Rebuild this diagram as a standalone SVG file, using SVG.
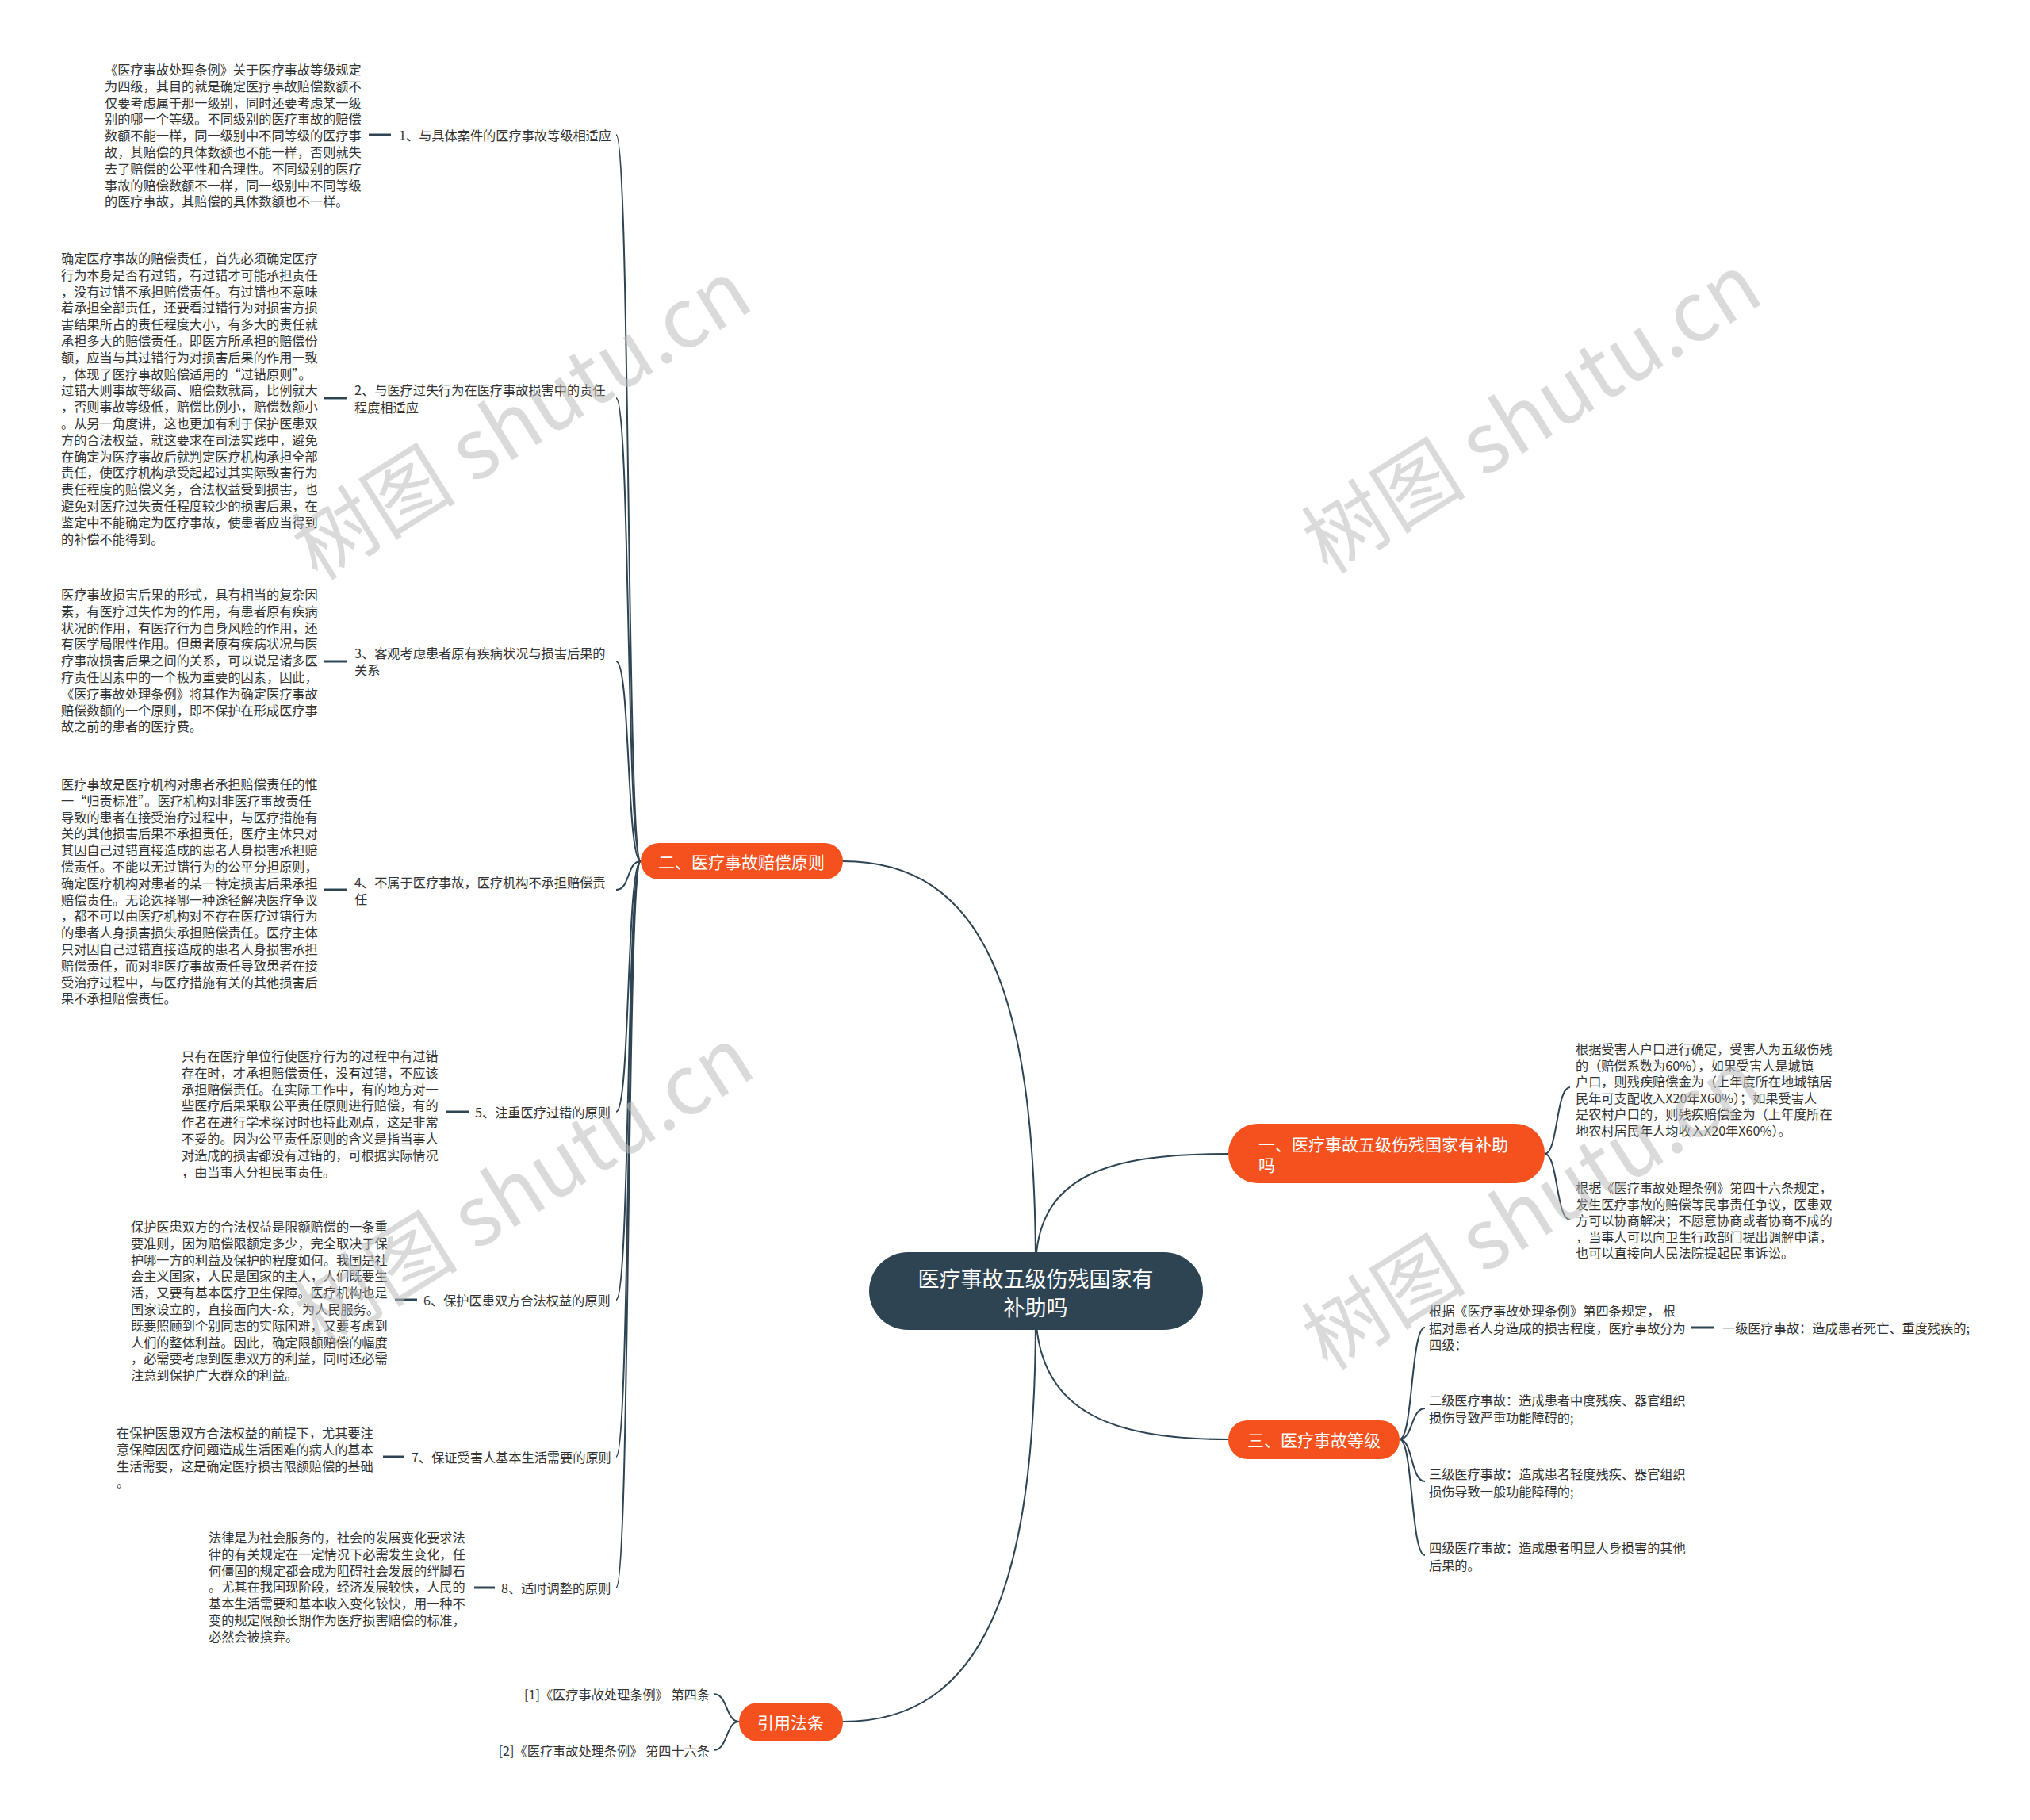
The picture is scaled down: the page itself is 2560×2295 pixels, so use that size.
<svg xmlns="http://www.w3.org/2000/svg" width="2560" height="2295" viewBox="0 0 2560 2295">
<style>
.t{font-family:"Noto Sans CJK SC","Liberation Sans",sans-serif;font-size:16.2px;fill:#333;dominant-baseline:central}
.l{font-family:"Noto Sans CJK SC","Liberation Sans",sans-serif;font-size:16.2px;fill:#333;dominant-baseline:central}
.nw{font-family:"Noto Sans CJK SC","Liberation Sans",sans-serif;font-size:21px;fill:#fff;dominant-baseline:central}
.cw{font-family:"Noto Sans CJK SC","Liberation Sans",sans-serif;font-size:27px;fill:#fff;dominant-baseline:central}
.c{fill:none;stroke:#2e4453;stroke-width:2}
.d{stroke:#2e4453;stroke-width:3}
.o{fill:#f4511e}
.wm{font-family:"Noto Sans CJK SC","Liberation Sans",sans-serif;font-size:104px;fill:#bbbbbb;fill-opacity:0.55}
</style>
<rect width="2560" height="2295" fill="#fff"/>
<g id="connectors">
<path class="c" d="M1306 1600 C1306 1250 1240 1086 1063 1086"/>
<path class="c" d="M1306 1600 C1306 1480 1400 1455 1549 1455"/>
<path class="c" d="M1306 1650 C1306 1780 1400 1815 1549 1815"/>
<path class="c" d="M1306 1660 C1306 2000 1240 2171 1063 2171"/>
<path class="c" d="M808 1086 C790 1086 795 170 777 170"/>
<path class="c" d="M808 1086 C790 1086 795 502 777 502"/>
<path class="c" d="M808 1086 C790 1086 795 834 777 834"/>
<path class="c" d="M808 1086 C790 1086 795 1122 777 1122"/>
<path class="c" d="M808 1086 C790 1086 795 1402 777 1402"/>
<path class="c" d="M808 1086 C790 1086 795 1639 777 1639"/>
<path class="c" d="M808 1086 C790 1086 795 1837 777 1837"/>
<path class="c" d="M808 1086 C790 1086 795 2002 777 2002"/>
<path class="c" d="M1948 1455 C1965 1455 1962 1371 1980 1371"/>
<path class="c" d="M1948 1455 C1965 1455 1962 1538 1980 1538"/>
<path class="c" d="M1765 1815 C1782 1815 1779 1674 1797 1674"/>
<path class="c" d="M1765 1815 C1782 1815 1779 1776 1797 1776"/>
<path class="c" d="M1765 1815 C1782 1815 1779 1868 1797 1868"/>
<path class="c" d="M1765 1815 C1782 1815 1779 1961 1797 1961"/>
<path class="c" d="M932 2171 C915 2171 918 2136 900 2136"/>
<path class="c" d="M932 2171 C915 2171 918 2207 900 2207"/>
<line class="d" x1="465" y1="170" x2="493" y2="170"/>
<line class="d" x1="408" y1="502" x2="438" y2="502"/>
<line class="d" x1="408" y1="834" x2="438" y2="834"/>
<line class="d" x1="408" y1="1122" x2="438" y2="1122"/>
<line class="d" x1="563" y1="1402" x2="591" y2="1402"/>
<line class="d" x1="498" y1="1639" x2="526" y2="1639"/>
<line class="d" x1="483" y1="1837" x2="509" y2="1837"/>
<line class="d" x1="598" y1="2002" x2="624" y2="2002"/>
<line class="d" x1="2132" y1="1674" x2="2162" y2="1674"/>
</g>
<g id="center">
<rect x="1096" y="1579" width="421" height="98" rx="49" fill="#2e4453"/>
<text class="cw" x="1306" y="1611" text-anchor="middle">医疗事故五级伤残国家有</text>
<text class="cw" x="1306" y="1647" text-anchor="middle">补助吗</text>
</g>
<g id="b2">
<rect class="o" x="808" y="1063" width="255" height="46" rx="23"/>
<text class="nw" x="935" y="1086" text-anchor="middle">二、医疗事故赔偿原则</text>
</g>
<g id="b1">
<rect class="o" x="1549" y="1417" width="399" height="75" rx="37"/>
<text class="nw" x="1587" y="1442">一、医疗事故五级伤残国家有补助</text>
<text class="nw" x="1587" y="1468">吗</text>
</g>
<g id="b3">
<rect class="o" x="1549" y="1791" width="216" height="49" rx="24"/>
<text class="nw" x="1657" y="1815" text-anchor="middle">三、医疗事故等级</text>
</g>
<g id="b4">
<rect class="o" x="932" y="2147" width="131" height="49" rx="24"/>
<text class="nw" x="997" y="2171" text-anchor="middle">引用法条</text>
</g>
<g id="p1">
<text class="l" x="503" y="170">1、与具体案件的医疗事故等级相适应</text>
<text class="t" x="132" y="87"><tspan x="132">《医疗事故处理条例》关于医疗事故等级规定</tspan><tspan x="132" dy="20.8">为四级，其目的就是确定医疗事故赔偿数额不</tspan><tspan x="132" dy="20.8">仅要考虑属于那一级别，同时还要考虑某一级</tspan><tspan x="132" dy="20.8">别的哪一个等级。不同级别的医疗事故的赔偿</tspan><tspan x="132" dy="20.8">数额不能一样，同一级别中不同等级的医疗事</tspan><tspan x="132" dy="20.8">故，其赔偿的具体数额也不能一样，否则就失</tspan><tspan x="132" dy="20.8">去了赔偿的公平性和合理性。不同级别的医疗</tspan><tspan x="132" dy="20.8">事故的赔偿数额不一样，同一级别中不同等级</tspan><tspan x="132" dy="20.8">的医疗事故，其赔偿的具体数额也不一样。</tspan></text>
</g>
<g id="p2">
<text class="l" x="447" y="491">2、与医疗过失行为在医疗事故损害中的责任</text>
<text class="l" x="447" y="513">程度相适应</text>
<text class="t" x="77" y="325"><tspan x="77">确定医疗事故的赔偿责任，首先必须确定医疗</tspan><tspan x="77" dy="20.8">行为本身是否有过错，有过错才可能承担责任</tspan><tspan x="77" dy="20.8">，没有过错不承担赔偿责任。有过错也不意味</tspan><tspan x="77" dy="20.8">着承担全部责任，还要看过错行为对损害方损</tspan><tspan x="77" dy="20.8">害结果所占的责任程度大小，有多大的责任就</tspan><tspan x="77" dy="20.8">承担多大的赔偿责任。即医方所承担的赔偿份</tspan><tspan x="77" dy="20.8">额，应当与其过错行为对损害后果的作用一致</tspan><tspan x="77" dy="20.8">，体现了医疗事故赔偿适用的“过错原则”。</tspan><tspan x="77" dy="20.8">过错大则事故等级高、赔偿数就高，比例就大</tspan><tspan x="77" dy="20.8">，否则事故等级低，赔偿比例小，赔偿数额小</tspan><tspan x="77" dy="20.8">。从另一角度讲，这也更加有利于保护医患双</tspan><tspan x="77" dy="20.8">方的合法权益，就这要求在司法实践中，避免</tspan><tspan x="77" dy="20.8">在确定为医疗事故后就判定医疗机构承担全部</tspan><tspan x="77" dy="20.8">责任，使医疗机构承受起超过其实际致害行为</tspan><tspan x="77" dy="20.8">责任程度的赔偿义务，合法权益受到损害，也</tspan><tspan x="77" dy="20.8">避免对医疗过失责任程度较少的损害后果，在</tspan><tspan x="77" dy="20.8">鉴定中不能确定为医疗事故，使患者应当得到</tspan><tspan x="77" dy="20.8">的补偿不能得到。</tspan></text>
</g>
<g id="p3">
<text class="l" x="447" y="823">3、客观考虑患者原有疾病状况与损害后果的</text>
<text class="l" x="447" y="844">关系</text>
<text class="t" x="77" y="749"><tspan x="77">医疗事故损害后果的形式，具有相当的复杂因</tspan><tspan x="77" dy="20.8">素，有医疗过失作为的作用，有患者原有疾病</tspan><tspan x="77" dy="20.8">状况的作用，有医疗行为自身风险的作用，还</tspan><tspan x="77" dy="20.8">有医学局限性作用。但患者原有疾病状况与医</tspan><tspan x="77" dy="20.8">疗事故损害后果之间的关系，可以说是诸多医</tspan><tspan x="77" dy="20.8">疗责任因素中的一个极为重要的因素，因此，</tspan><tspan x="77" dy="20.8">《医疗事故处理条例》将其作为确定医疗事故</tspan><tspan x="77" dy="20.8">赔偿数额的一个原则，即不保护在形成医疗事</tspan><tspan x="77" dy="20.8">故之前的患者的医疗费。</tspan></text>
</g>
<g id="p4">
<text class="l" x="447" y="1112">4、不属于医疗事故，医疗机构不承担赔偿责</text>
<text class="l" x="447" y="1133">任</text>
<text class="t" x="77" y="988"><tspan x="77">医疗事故是医疗机构对患者承担赔偿责任的惟</tspan><tspan x="77" dy="20.8">一“归责标准”。医疗机构对非医疗事故责任</tspan><tspan x="77" dy="20.8">导致的患者在接受治疗过程中，与医疗措施有</tspan><tspan x="77" dy="20.8">关的其他损害后果不承担责任，医疗主体只对</tspan><tspan x="77" dy="20.8">其因自己过错直接造成的患者人身损害承担赔</tspan><tspan x="77" dy="20.8">偿责任。不能以无过错行为的公平分担原则，</tspan><tspan x="77" dy="20.8">确定医疗机构对患者的某一特定损害后果承担</tspan><tspan x="77" dy="20.8">赔偿责任。无论选择哪一种途径解决医疗争议</tspan><tspan x="77" dy="20.8">，都不可以由医疗机构对不存在医疗过错行为</tspan><tspan x="77" dy="20.8">的患者人身损害损失承担赔偿责任。医疗主体</tspan><tspan x="77" dy="20.8">只对因自己过错直接造成的患者人身损害承担</tspan><tspan x="77" dy="20.8">赔偿责任，而对非医疗事故责任导致患者在接</tspan><tspan x="77" dy="20.8">受治疗过程中，与医疗措施有关的其他损害后</tspan><tspan x="77" dy="20.8">果不承担赔偿责任。</tspan></text>
</g>
<g id="p5">
<text class="l" x="599" y="1402">5、注重医疗过错的原则</text>
<text class="t" x="229" y="1331"><tspan x="229">只有在医疗单位行使医疗行为的过程中有过错</tspan><tspan x="229" dy="20.8">存在时，才承担赔偿责任，没有过错，不应该</tspan><tspan x="229" dy="20.8">承担赔偿责任。在实际工作中，有的地方对一</tspan><tspan x="229" dy="20.8">些医疗后果采取公平责任原则进行赔偿，有的</tspan><tspan x="229" dy="20.8">作者在进行学术探讨时也持此观点，这是非常</tspan><tspan x="229" dy="20.8">不妥的。因为公平责任原则的含义是指当事人</tspan><tspan x="229" dy="20.8">对造成的损害都没有过错的，可根据实际情况</tspan><tspan x="229" dy="20.8">，由当事人分担民事责任。</tspan></text>
</g>
<g id="p6">
<text class="l" x="534" y="1639">6、保护医患双方合法权益的原则</text>
<text class="t" x="165" y="1546"><tspan x="165">保护医患双方的合法权益是限额赔偿的一条重</tspan><tspan x="165" dy="20.8">要准则，因为赔偿限额定多少，完全取决于保</tspan><tspan x="165" dy="20.8">护哪一方的利益及保护的程度如何。我国是社</tspan><tspan x="165" dy="20.8">会主义国家，人民是国家的主人，人们既要生</tspan><tspan x="165" dy="20.8">活，又要有基本医疗卫生保障。医疗机构也是</tspan><tspan x="165" dy="20.8">国家设立的，直接面向大-众，为人民服务。</tspan><tspan x="165" dy="20.8">既要照顾到个别同志的实际困难，又要考虑到</tspan><tspan x="165" dy="20.8">人们的整体利益。因此，确定限额赔偿的幅度</tspan><tspan x="165" dy="20.8">，必需要考虑到医患双方的利益，同时还必需</tspan><tspan x="165" dy="20.8">注意到保护广大群众的利益。</tspan></text>
</g>
<g id="p7">
<text class="l" x="519" y="1837">7、保证受害人基本生活需要的原则</text>
<text class="t" x="147" y="1806"><tspan x="147">在保护医患双方合法权益的前提下，尤其要注</tspan><tspan x="147" dy="20.8">意保障因医疗问题造成生活困难的病人的基本</tspan><tspan x="147" dy="20.8">生活需要，这是确定医疗损害限额赔偿的基础</tspan><tspan x="147" dy="20.8">。</tspan></text>
</g>
<g id="p8">
<text class="l" x="632" y="2002">8、适时调整的原则</text>
<text class="t" x="263" y="1938"><tspan x="263">法律是为社会服务的，社会的发展变化要求法</tspan><tspan x="263" dy="20.8">律的有关规定在一定情况下必需发生变化，任</tspan><tspan x="263" dy="20.8">何僵固的规定都会成为阻碍社会发展的绊脚石</tspan><tspan x="263" dy="20.8">。尤其在我国现阶段，经济发展较快，人民的</tspan><tspan x="263" dy="20.8">基本生活需要和基本收入变化较快，用一种不</tspan><tspan x="263" dy="20.8">变的规定限额长期作为医疗损害赔偿的标准，</tspan><tspan x="263" dy="20.8">必然会被摈弃。</tspan></text>
</g>
<g id="r1">
<text class="t" x="1987" y="1322"><tspan x="1987">根据受害人户口进行确定，受害人为五级伤残</tspan><tspan x="1987" dy="20.6">的（赔偿系数为60%），如果受害人是城镇</tspan><tspan x="1987" dy="20.6">户口，则残疾赔偿金为（上年度所在地城镇居</tspan><tspan x="1987" dy="20.6">民年可支配收入X20年X60%）；如果受害人</tspan><tspan x="1987" dy="20.6">是农村户口的，则残疾赔偿金为（上年度所在</tspan><tspan x="1987" dy="20.6">地农村居民年人均收入X20年X60%）。</tspan></text>
</g>
<g id="r2">
<text class="t" x="1987" y="1497"><tspan x="1987">根据《医疗事故处理条例》第四十六条规定，</tspan><tspan x="1987" dy="20.6">发生医疗事故的赔偿等民事责任争议，医患双</tspan><tspan x="1987" dy="20.6">方可以协商解决；不愿意协商或者协商不成的</tspan><tspan x="1987" dy="20.6">，当事人可以向卫生行政部门提出调解申请，</tspan><tspan x="1987" dy="20.6">也可以直接向人民法院提起民事诉讼。</tspan></text>
</g>
<g id="g1">
<text class="t" x="1802" y="1652"><tspan x="1802">根据《医疗事故处理条例》第四条规定， 根</tspan><tspan x="1802" dy="21.5">据对患者人身造成的损害程度，医疗事故分为</tspan><tspan x="1802" dy="21.5">四级：</tspan></text>
</g>
<g id="g1a">
<text class="t" x="2172" y="1674">一级医疗事故：造成患者死亡、重度残疾的;</text>
</g>
<g id="g2">
<text class="t" x="1802" y="1765"><tspan x="1802">二级医疗事故：造成患者中度残疾、器官组织</tspan><tspan x="1802" dy="21.5">损伤导致严重功能障碍的;</tspan></text>
</g>
<g id="g3">
<text class="t" x="1802" y="1858"><tspan x="1802">三级医疗事故：造成患者轻度残疾、器官组织</tspan><tspan x="1802" dy="21.5">损伤导致一般功能障碍的;</tspan></text>
</g>
<g id="g4">
<text class="t" x="1802" y="1951"><tspan x="1802">四级医疗事故：造成患者明显人身损害的其他</tspan><tspan x="1802" dy="21.5">后果的。</tspan></text>
</g>
<g id="ref1">
<text class="l" x="895" y="2136" text-anchor="end">[1]《医疗事故处理条例》 第四条</text>
</g>
<g id="ref2">
<text class="l" x="895" y="2207" text-anchor="end">[2]《医疗事故处理条例》 第四十六条</text>
</g>
<g id="watermarks">
<text class="wm" x="653" y="522" text-anchor="middle" dominant-baseline="central" transform="rotate(-32 653 522)">树图 shutu.cn</text>
<text class="wm" x="1927" y="514" text-anchor="middle" dominant-baseline="central" transform="rotate(-32 1927 514)">树图 shutu.cn</text>
<text class="wm" x="656" y="1489" text-anchor="middle" dominant-baseline="central" transform="rotate(-32 656 1489)">树图 shutu.cn</text>
<text class="wm" x="1927" y="1518" text-anchor="middle" dominant-baseline="central" transform="rotate(-32 1927 1518)">树图 shutu.cn</text>
</g>
</svg>
